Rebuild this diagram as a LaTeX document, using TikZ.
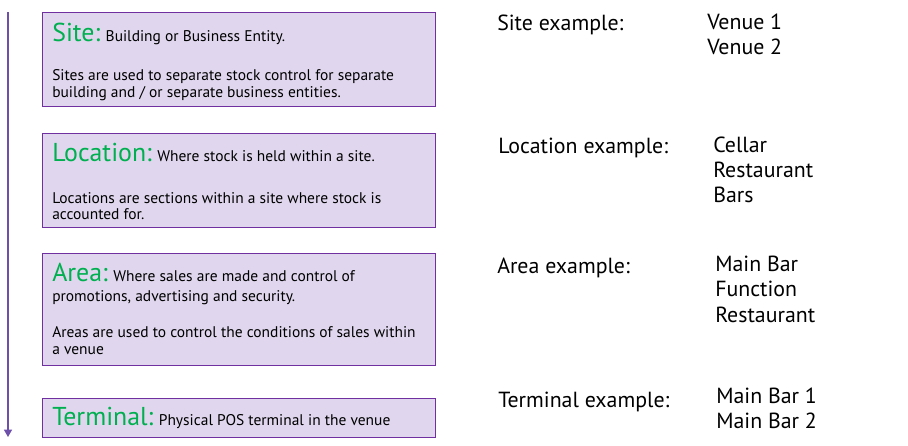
\documentclass[tikz,border=0pt]{standalone}
\usepackage{fontspec}
\setmainfont{PT Sans}
\usetikzlibrary{arrows.meta}
\definecolor{lvlpurple}{RGB}{112,48,160}
\definecolor{lvlline}{RGB}{110,80,170}
\definecolor{lvlfill}{RGB}{224,215,238}
\definecolor{lvlgreen}{RGB}{0,176,80}
\newcommand{\lvlname}[1]{{\fontsize{19.4}{21}\selectfont\color{lvlgreen}#1}}
\tikzset{
	lvlbox/.style={draw=lvlpurple, fill=lvlfill, line width=0.75pt, anchor=north west, inner sep=0pt, minimum width=294.75pt},
	boxtxt/.style={anchor=base west, inner sep=0pt, font=\fontsize{11.6}{13}\selectfont},
	extxt/.style={anchor=base west, inner sep=0pt, font=\fontsize{16.4}{18}\selectfont},
	flow/.style={draw=lvlline, line width=0.9pt, -{Triangle[width=6pt,length=5.5pt]}}
}
\begin{document}
\begin{tikzpicture}[x=0.75pt,y=-0.75pt]
				\useasboundingbox (0,0) rectangle (908,446);
				% level boxes
				\node[lvlbox, minimum height=70.5pt] (site) at (42,12) {};
				\node[lvlbox, minimum height=70.5pt] (loc) at (42,133) {};
				\node[lvlbox, minimum height=84pt] (area) at (42,253) {};
				\node[lvlbox, minimum height=29.25pt] (term) at (42,398) {};
				% arrow on the left
				\coordinate (flowtop) at (8,12);
				\coordinate (flowend) at (8,437);
				\draw[flow] (flowtop) -- (flowend);
				% box texts
				\node[boxtxt] (site-t) at (52,41) {\lvlname{Site:} Building or Business Entity.};
				\node[boxtxt] (site-a) at (52,80) {Sites are used to separate stock control for separate};
				\node[boxtxt] (site-b) at (52,97) {building and / or separate business entities.};
				\node[boxtxt] (loc-t) at (52,161) {\lvlname{Location:} Where stock is held within a site.};
				\node[boxtxt] (loc-a) at (52,203) {Locations are sections within a site where stock is};
				\node[boxtxt] (loc-b) at (52,219) {accounted for.};
				\node[boxtxt] (area-t) at (52,281) {\lvlname{Area:} Where sales are made and control of};
				\node[boxtxt] (area-a) at (52,301) {promotions, advertising and security.};
				\node[boxtxt] (area-b) at (52,337) {Areas are used to control the conditions of sales within};
				\node[boxtxt] (area-c) at (52,354) {a venue};
				\node[boxtxt] (term-t) at (52,425) {\lvlname{Terminal:} Physical POS terminal in the venue};
				% examples
				\node[extxt] (site-ex) at (497,31) {Site example:};
				\node[extxt] (site-v1) at (707,30) {Venue 1};
				\node[extxt] (site-v2) at (707,55) {Venue 2};
				\node[extxt] (loc-ex) at (498,153) {Location example:};
				\node[extxt] (loc-v1) at (713,152) {Cellar};
				\node[extxt] (loc-v2) at (713,177) {Restaurant};
				\node[extxt] (loc-v3) at (713,202) {Bars};
				\node[extxt] (area-ex) at (497,273) {Area example:};
				\node[extxt] (area-v1) at (715,271) {Main Bar};
				\node[extxt] (area-v2) at (715,296) {Function};
				\node[extxt] (area-v3) at (715,322) {Restaurant};
				\node[extxt] (term-ex) at (498,407) {Terminal example:};
				\node[extxt] (term-v1) at (716,403) {Main Bar 1};
				\node[extxt] (term-v2) at (716,428) {Main Bar 2};
			\end{tikzpicture}
\end{document}
